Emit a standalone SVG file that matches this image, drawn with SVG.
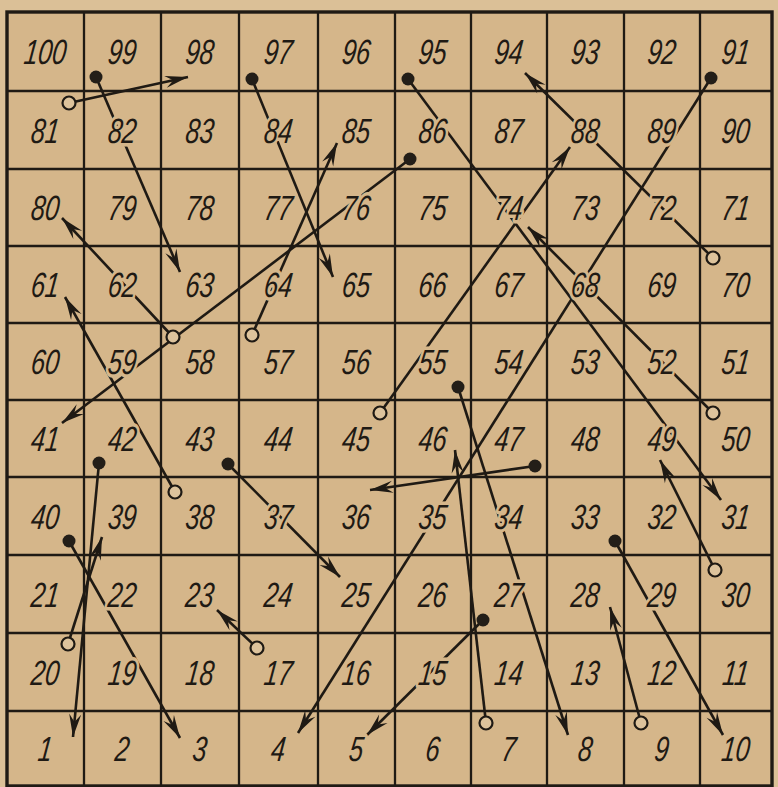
<svg xmlns="http://www.w3.org/2000/svg" width="778" height="787" viewBox="0 0 778 787">
<style>
.bg{fill:#d5b68a}
.grid{stroke:#1f1a14;stroke-width:2.3;fill:none}
.border{stroke:#1f1a14;stroke-width:3.4;fill:none}
.lbl text{font-family:"Liberation Sans","DejaVu Sans",sans-serif;font-style:italic;font-size:35px;fill:#1f1a14;text-anchor:middle;stroke:#d5b68a;stroke-width:7px;paint-order:stroke;stroke-linejoin:round}
.con line{stroke:#1f1a14;stroke-width:2.6;marker-end:url(#arr)}
.dot{fill:#231e18}
.ring{fill:#ddc39c;stroke:#1f1a14;stroke-width:2.2}
</style>
<defs>
<marker id="arr" viewBox="-24 -8 26 16" markerWidth="26" markerHeight="16" refX="0" refY="0" orient="auto" markerUnits="userSpaceOnUse">
<path d="M0,0 L-23,-6 L-15,0 L-23,6 Z" fill="#1f1a14"/>
</marker>
</defs>
<rect x="0" y="0" width="778" height="787" fill="#dbc097"/>
<rect class="bg" x="7" y="12" width="765" height="774"/>
<g id="grid">
<path class="grid" d="M84,12V786 M161,12V786 M239,12V786 M318,12V786 M395,12V786 M471,12V786 M547,12V786 M624,12V786 M700,12V786 M7,91H772 M7,169H772 M7,246H772 M7,323H772 M7,400H772 M7,477H772 M7,555H772 M7,633H772 M7,711H772"/>
<rect class="border" x="7" y="12" width="765" height="774"/>
</g>
<g id="connectors" class="con">
<line x1="96" y1="77" x2="180" y2="272"/>
<line x1="252" y1="79" x2="333" y2="277"/>
<line x1="410" y1="159" x2="62" y2="423"/>
<line x1="408" y1="79" x2="721" y2="500"/>
<line x1="711" y1="78" x2="298" y2="733"/>
<line x1="458" y1="387" x2="568" y2="735"/>
<line x1="535" y1="466" x2="370" y2="490"/>
<line x1="483" y1="620" x2="367" y2="735"/>
<line x1="615" y1="541" x2="723" y2="735"/>
<line x1="99" y1="463" x2="73" y2="737"/>
<line x1="69" y1="541" x2="180" y2="738"/>
<line x1="228" y1="464" x2="340" y2="577"/>
<line x1="69" y1="103" x2="188" y2="77"/>
<line x1="252" y1="335" x2="337" y2="143"/>
<line x1="173" y1="337" x2="62" y2="218"/>
<line x1="175" y1="492" x2="65" y2="297"/>
<line x1="713" y1="258" x2="525" y2="73"/>
<line x1="380" y1="413" x2="570" y2="147"/>
<line x1="713" y1="413" x2="528" y2="227"/>
<line x1="486" y1="723" x2="455" y2="450"/>
<line x1="641" y1="723" x2="610" y2="607"/>
<line x1="715" y1="570" x2="660" y2="460"/>
<line x1="68" y1="644" x2="102" y2="537"/>
<line x1="257" y1="648" x2="217" y2="610"/>
</g>
<g class="lbl">
<g id="c100" transform="translate(44,64) skewX(-7) scale(0.72,1)"><text>100</text></g>
<g id="c99" transform="translate(121,64) skewX(-7) scale(0.72,1)"><text>99</text></g>
<g id="c98" transform="translate(198.5,64) skewX(-7) scale(0.72,1)"><text>98</text></g>
<g id="c97" transform="translate(277,64) skewX(-7) scale(0.72,1)"><text>97</text></g>
<g id="c96" transform="translate(355,64) skewX(-7) scale(0.72,1)"><text>96</text></g>
<g id="c95" transform="translate(431.5,64) skewX(-7) scale(0.72,1)"><text>95</text></g>
<g id="c94" transform="translate(507.5,64) skewX(-7) scale(0.72,1)"><text>94</text></g>
<g id="c93" transform="translate(584,64) skewX(-7) scale(0.72,1)"><text>93</text></g>
<g id="c92" transform="translate(660.5,64) skewX(-7) scale(0.72,1)"><text>92</text></g>
<g id="c91" transform="translate(734.5,64) skewX(-7) scale(0.72,1)"><text>91</text></g>
<g id="c81" transform="translate(44,142.5) skewX(-7) scale(0.72,1)"><text>81</text></g>
<g id="c82" transform="translate(121,142.5) skewX(-7) scale(0.72,1)"><text>82</text></g>
<g id="c83" transform="translate(198.5,142.5) skewX(-7) scale(0.72,1)"><text>83</text></g>
<g id="c84" transform="translate(277,142.5) skewX(-7) scale(0.72,1)"><text>84</text></g>
<g id="c85" transform="translate(355,142.5) skewX(-7) scale(0.72,1)"><text>85</text></g>
<g id="c86" transform="translate(431.5,142.5) skewX(-7) scale(0.72,1)"><text>86</text></g>
<g id="c87" transform="translate(507.5,142.5) skewX(-7) scale(0.72,1)"><text>87</text></g>
<g id="c88" transform="translate(584,142.5) skewX(-7) scale(0.72,1)"><text>88</text></g>
<g id="c89" transform="translate(660.5,142.5) skewX(-7) scale(0.72,1)"><text>89</text></g>
<g id="c90" transform="translate(734.5,142.5) skewX(-7) scale(0.72,1)"><text>90</text></g>
<g id="c80" transform="translate(44,220) skewX(-7) scale(0.72,1)"><text>80</text></g>
<g id="c79" transform="translate(121,220) skewX(-7) scale(0.72,1)"><text>79</text></g>
<g id="c78" transform="translate(198.5,220) skewX(-7) scale(0.72,1)"><text>78</text></g>
<g id="c77" transform="translate(277,220) skewX(-7) scale(0.72,1)"><text>77</text></g>
<g id="c76" transform="translate(355,220) skewX(-7) scale(0.72,1)"><text>76</text></g>
<g id="c75" transform="translate(431.5,220) skewX(-7) scale(0.72,1)"><text>75</text></g>
<g id="c74" transform="translate(507.5,220) skewX(-7) scale(0.72,1)"><text>74</text></g>
<g id="c73" transform="translate(584,220) skewX(-7) scale(0.72,1)"><text>73</text></g>
<g id="c72" transform="translate(660.5,220) skewX(-7) scale(0.72,1)"><text>72</text></g>
<g id="c71" transform="translate(734.5,220) skewX(-7) scale(0.72,1)"><text>71</text></g>
<g id="c61" transform="translate(44,297) skewX(-7) scale(0.72,1)"><text>61</text></g>
<g id="c62" transform="translate(121,297) skewX(-7) scale(0.72,1)"><text>62</text></g>
<g id="c63" transform="translate(198.5,297) skewX(-7) scale(0.72,1)"><text>63</text></g>
<g id="c64" transform="translate(277,297) skewX(-7) scale(0.72,1)"><text>64</text></g>
<g id="c65" transform="translate(355,297) skewX(-7) scale(0.72,1)"><text>65</text></g>
<g id="c66" transform="translate(431.5,297) skewX(-7) scale(0.72,1)"><text>66</text></g>
<g id="c67" transform="translate(507.5,297) skewX(-7) scale(0.72,1)"><text>67</text></g>
<g id="c68" transform="translate(584,297) skewX(-7) scale(0.72,1)"><text>68</text></g>
<g id="c69" transform="translate(660.5,297) skewX(-7) scale(0.72,1)"><text>69</text></g>
<g id="c70" transform="translate(734.5,297) skewX(-7) scale(0.72,1)"><text>70</text></g>
<g id="c60" transform="translate(44,374) skewX(-7) scale(0.72,1)"><text>60</text></g>
<g id="c59" transform="translate(121,374) skewX(-7) scale(0.72,1)"><text>59</text></g>
<g id="c58" transform="translate(198.5,374) skewX(-7) scale(0.72,1)"><text>58</text></g>
<g id="c57" transform="translate(277,374) skewX(-7) scale(0.72,1)"><text>57</text></g>
<g id="c56" transform="translate(355,374) skewX(-7) scale(0.72,1)"><text>56</text></g>
<g id="c55" transform="translate(431.5,374) skewX(-7) scale(0.72,1)"><text>55</text></g>
<g id="c54" transform="translate(507.5,374) skewX(-7) scale(0.72,1)"><text>54</text></g>
<g id="c53" transform="translate(584,374) skewX(-7) scale(0.72,1)"><text>53</text></g>
<g id="c52" transform="translate(660.5,374) skewX(-7) scale(0.72,1)"><text>52</text></g>
<g id="c51" transform="translate(734.5,374) skewX(-7) scale(0.72,1)"><text>51</text></g>
<g id="c41" transform="translate(44,451) skewX(-7) scale(0.72,1)"><text>41</text></g>
<g id="c42" transform="translate(121,451) skewX(-7) scale(0.72,1)"><text>42</text></g>
<g id="c43" transform="translate(198.5,451) skewX(-7) scale(0.72,1)"><text>43</text></g>
<g id="c44" transform="translate(277,451) skewX(-7) scale(0.72,1)"><text>44</text></g>
<g id="c45" transform="translate(355,451) skewX(-7) scale(0.72,1)"><text>45</text></g>
<g id="c46" transform="translate(431.5,451) skewX(-7) scale(0.72,1)"><text>46</text></g>
<g id="c47" transform="translate(507.5,451) skewX(-7) scale(0.72,1)"><text>47</text></g>
<g id="c48" transform="translate(584,451) skewX(-7) scale(0.72,1)"><text>48</text></g>
<g id="c49" transform="translate(660.5,451) skewX(-7) scale(0.72,1)"><text>49</text></g>
<g id="c50" transform="translate(734.5,451) skewX(-7) scale(0.72,1)"><text>50</text></g>
<g id="c40" transform="translate(44,528.5) skewX(-7) scale(0.72,1)"><text>40</text></g>
<g id="c39" transform="translate(121,528.5) skewX(-7) scale(0.72,1)"><text>39</text></g>
<g id="c38" transform="translate(198.5,528.5) skewX(-7) scale(0.72,1)"><text>38</text></g>
<g id="c37" transform="translate(277,528.5) skewX(-7) scale(0.72,1)"><text>37</text></g>
<g id="c36" transform="translate(355,528.5) skewX(-7) scale(0.72,1)"><text>36</text></g>
<g id="c35" transform="translate(431.5,528.5) skewX(-7) scale(0.72,1)"><text>35</text></g>
<g id="c34" transform="translate(507.5,528.5) skewX(-7) scale(0.72,1)"><text>34</text></g>
<g id="c33" transform="translate(584,528.5) skewX(-7) scale(0.72,1)"><text>33</text></g>
<g id="c32" transform="translate(660.5,528.5) skewX(-7) scale(0.72,1)"><text>32</text></g>
<g id="c31" transform="translate(734.5,528.5) skewX(-7) scale(0.72,1)"><text>31</text></g>
<g id="c21" transform="translate(44,606.5) skewX(-7) scale(0.72,1)"><text>21</text></g>
<g id="c22" transform="translate(121,606.5) skewX(-7) scale(0.72,1)"><text>22</text></g>
<g id="c23" transform="translate(198.5,606.5) skewX(-7) scale(0.72,1)"><text>23</text></g>
<g id="c24" transform="translate(277,606.5) skewX(-7) scale(0.72,1)"><text>24</text></g>
<g id="c25" transform="translate(355,606.5) skewX(-7) scale(0.72,1)"><text>25</text></g>
<g id="c26" transform="translate(431.5,606.5) skewX(-7) scale(0.72,1)"><text>26</text></g>
<g id="c27" transform="translate(507.5,606.5) skewX(-7) scale(0.72,1)"><text>27</text></g>
<g id="c28" transform="translate(584,606.5) skewX(-7) scale(0.72,1)"><text>28</text></g>
<g id="c29" transform="translate(660.5,606.5) skewX(-7) scale(0.72,1)"><text>29</text></g>
<g id="c30" transform="translate(734.5,606.5) skewX(-7) scale(0.72,1)"><text>30</text></g>
<g id="c20" transform="translate(44,684.5) skewX(-7) scale(0.72,1)"><text>20</text></g>
<g id="c19" transform="translate(121,684.5) skewX(-7) scale(0.72,1)"><text>19</text></g>
<g id="c18" transform="translate(198.5,684.5) skewX(-7) scale(0.72,1)"><text>18</text></g>
<g id="c17" transform="translate(277,684.5) skewX(-7) scale(0.72,1)"><text>17</text></g>
<g id="c16" transform="translate(355,684.5) skewX(-7) scale(0.72,1)"><text>16</text></g>
<g id="c15" transform="translate(431.5,684.5) skewX(-7) scale(0.72,1)"><text>15</text></g>
<g id="c14" transform="translate(507.5,684.5) skewX(-7) scale(0.72,1)"><text>14</text></g>
<g id="c13" transform="translate(584,684.5) skewX(-7) scale(0.72,1)"><text>13</text></g>
<g id="c12" transform="translate(660.5,684.5) skewX(-7) scale(0.72,1)"><text>12</text></g>
<g id="c11" transform="translate(734.5,684.5) skewX(-7) scale(0.72,1)"><text>11</text></g>
<g id="c1" transform="translate(44,761) skewX(-7) scale(0.72,1)"><text>1</text></g>
<g id="c2" transform="translate(121,761) skewX(-7) scale(0.72,1)"><text>2</text></g>
<g id="c3" transform="translate(198.5,761) skewX(-7) scale(0.72,1)"><text>3</text></g>
<g id="c4" transform="translate(277,761) skewX(-7) scale(0.72,1)"><text>4</text></g>
<g id="c5" transform="translate(355,761) skewX(-7) scale(0.72,1)"><text>5</text></g>
<g id="c6" transform="translate(431.5,761) skewX(-7) scale(0.72,1)"><text>6</text></g>
<g id="c7" transform="translate(507.5,761) skewX(-7) scale(0.72,1)"><text>7</text></g>
<g id="c8" transform="translate(584,761) skewX(-7) scale(0.72,1)"><text>8</text></g>
<g id="c9" transform="translate(660.5,761) skewX(-7) scale(0.72,1)"><text>9</text></g>
<g id="c10" transform="translate(734.5,761) skewX(-7) scale(0.72,1)"><text>10</text></g>
</g>
<g id="ends">
<circle class="dot" cx="96" cy="77" r="6.5"/>
<circle class="dot" cx="252" cy="79" r="6.5"/>
<circle class="dot" cx="410" cy="159" r="6.5"/>
<circle class="dot" cx="408" cy="79" r="6.5"/>
<circle class="dot" cx="711" cy="78" r="6.5"/>
<circle class="dot" cx="458" cy="387" r="6.5"/>
<circle class="dot" cx="535" cy="466" r="6.5"/>
<circle class="dot" cx="483" cy="620" r="6.5"/>
<circle class="dot" cx="615" cy="541" r="6.5"/>
<circle class="dot" cx="99" cy="463" r="6.5"/>
<circle class="dot" cx="69" cy="541" r="6.5"/>
<circle class="dot" cx="228" cy="464" r="6.5"/>
<circle class="ring" cx="69" cy="103" r="6.5"/>
<circle class="ring" cx="252" cy="335" r="6.5"/>
<circle class="ring" cx="173" cy="337" r="6.5"/>
<circle class="ring" cx="175" cy="492" r="6.5"/>
<circle class="ring" cx="713" cy="258" r="6.5"/>
<circle class="ring" cx="380" cy="413" r="6.5"/>
<circle class="ring" cx="713" cy="413" r="6.5"/>
<circle class="ring" cx="486" cy="723" r="6.5"/>
<circle class="ring" cx="641" cy="723" r="6.5"/>
<circle class="ring" cx="715" cy="570" r="6.5"/>
<circle class="ring" cx="68" cy="644" r="6.5"/>
<circle class="ring" cx="257" cy="648" r="6.5"/>
</g>
</svg>
